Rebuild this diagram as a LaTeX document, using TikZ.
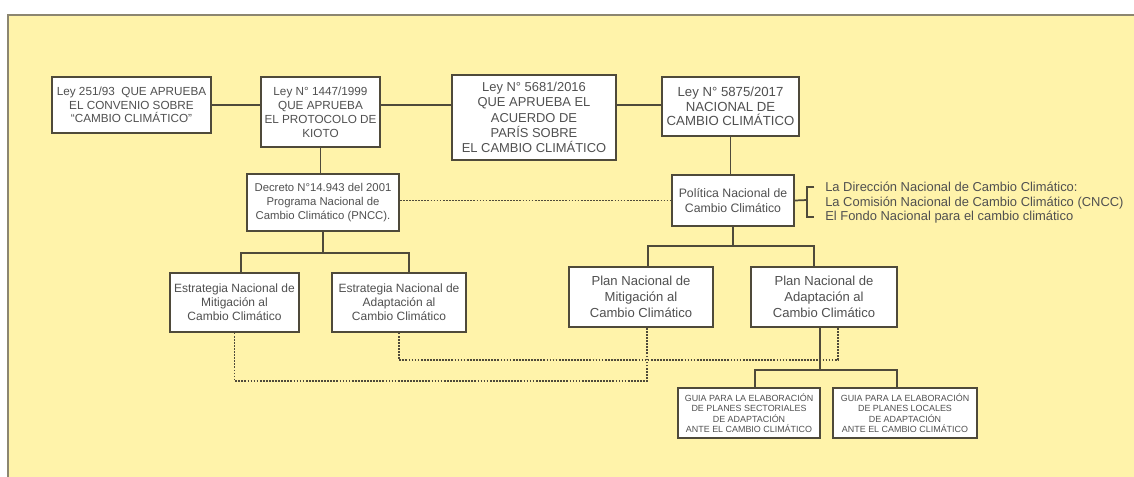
\documentclass[tikz,border=0pt]{standalone}
\usepackage{fontspec}
\setmainfont{Liberation Sans}
\definecolor{panel}{HTML}{FFF3AA}
\definecolor{rim}{HTML}{8C8670}
\definecolor{ink}{HTML}{4F4A3A}
\definecolor{txt}{HTML}{505050}

\begin{document}
\begin{tikzpicture}[x=0.75pt, y=-0.75pt,
        box/.style={draw=ink, line width=1.3pt, fill=white, align=center, text=txt,
            font=\fontsize{9}{10.5}\selectfont, inner sep=1pt},
        guia/.style={box, font=\fontsize{6.7}{7.9}\selectfont},
        link/.style={draw=ink, line width=1.3pt},
        dots/.style={draw=ink, line width=1.3pt, densely dotted},
        nota/.style={anchor=west, text=txt, font=\fontsize{9.7}{10}\selectfont, inner sep=0pt}]
        \useasboundingbox (0,0) rectangle (1134,476);
        \fill[white] (0,0) rectangle (1134,476);
        \filldraw[fill=panel, draw=rim, line width=0.9pt] (8,15) rectangle (1145,490);

        % leyes
        \node[box, minimum width=119pt, minimum height=42pt, font=\fontsize{8.8}{10.3}\selectfont] (b251) at (131.5,105)
            {Ley 251/93\ \ QUE APRUEBA\\EL CONVENIO SOBRE\\``CAMBIO CLIMÁTICO''};
        \node[box, minimum width=89pt, minimum height=52.5pt, font=\fontsize{8.8}{10.5}\selectfont] (b1447) at (320.5,112)
            {Ley N° 1447/1999\\QUE APRUEBA\\EL PROTOCOLO DE\\KIOTO};
        \node[box, minimum width=123pt, minimum height=64pt, font=\fontsize{9.7}{11.5}\selectfont] (b5681) at (534,117.5)
            {Ley N° 5681/2016\\QUE APRUEBA EL\\ACUERDO DE\\PARÍS SOBRE\\EL CAMBIO CLIMÁTICO};
        \node[box, minimum width=103pt, minimum height=44pt, font=\fontsize{9.9}{11}\selectfont] (b5875) at (730.5,106.5)
            {Ley N° 5875/2017\\NACIONAL DE\\CAMBIO CLIMÁTICO};

        % programas y politica
        \node[box, minimum width=114pt, minimum height=43pt, font=\fontsize{8.5}{10.8}\selectfont] (decreto) at (323,202.5)
            {Decreto N°14.943 del 2001\\Programa Nacional de\\Cambio Climático (PNCC).};
        \node[box, minimum width=91.5pt, minimum height=38pt, font=\fontsize{9.2}{11.5}\selectfont] (politica) at (733,200.5)
            {Política Nacional de\\Cambio Climático};

        \node[nota] (l1) at (825,187) {La Dirección Nacional de Cambio Climático:};
        \node[nota] (l2) at (825,203) {La Comisión Nacional de Cambio Climático (CNCC)};
        \node[nota] (l3) at (825,217) {El Fondo Nacional para el cambio climático};

        % estrategias y planes
        \node[box, minimum width=97pt, minimum height=44pt] (em) at (234.5,302.5)
            {Estrategia Nacional de\\Mitigación al\\Cambio Climático};
        \node[box, minimum width=100.5pt, minimum height=44pt] (ea) at (399,302.5)
            {Estrategia Nacional de\\Adaptación al\\Cambio Climático};
        \node[box, minimum width=108pt, minimum height=45pt, font=\fontsize{9.8}{12}\selectfont] (pm) at (641,297)
            {Plan Nacional de\\Mitigación al\\Cambio Climático};
        \node[box, minimum width=109.5pt, minimum height=45pt, font=\fontsize{9.8}{12}\selectfont] (pa) at (824,297)
            {Plan Nacional de\\Adaptación al\\Cambio Climático};

        % guias
        \node[guia, minimum width=106.5pt, minimum height=37.5pt] (g1) at (749,413)
            {GUIA PARA LA ELABORACIÓN\\DE PLANES SECTORIALES\\DE ADAPTACIÓN\\ANTE EL CAMBIO CLIMÁTICO};
        \node[guia, minimum width=108pt, minimum height=37.5pt] (g2) at (905,413)
            {GUIA PARA LA ELABORACIÓN\\DE PLANES LOCALES\\DE ADAPTACIÓN\\ANTE EL CAMBIO CLIMÁTICO};

        \coordinate (top) at (0,105);
        \coordinate (f1) at (323,253);
        \coordinate (f2) at (733,246);
        \coordinate (f3) at (820,370);
        \coordinate (d1) at (647,381);
        \coordinate (d2) at (838,360);
        \coordinate (brk) at (807,200);

        \draw[link] (b251.east) -- (b251.east -| b1447.west);
        \draw[link] (b1447.east |- top) -- (b5681.west |- top);
        \draw[link] (b5681.east |- top) -- (b5875.west |- top);
        \draw[link] (b1447.south) -- (b1447.south |- decreto.north);
        \draw[link] (b5875.south) -- (b5875.south |- politica.north);
        \draw[dots] (decreto.east |- politica.west) -- (politica.west);

        \draw[link] (politica.east) -- (brk);
        \draw[link] ([xshift=-8pt]l1.west) -| (brk) |- ([xshift=-8pt]l3.west);

        \draw[link] (decreto.south) -- (f1);
        \draw[link] ([xshift=5pt]em.north) |- (f1) -| ([xshift=7.5pt]ea.north);
        \draw[link] (politica.south) -- (f2);
        \draw[link] ([xshift=5.25pt]pm.north) |- (f2) -| ([xshift=-7.5pt]pa.north);
        \draw[link] ([xshift=-3pt]pa.south) -- (f3);
        \draw[link] ([xshift=4.5pt]g1.north) |- (f3) -| ([xshift=-6pt]g2.north);

        \draw[dots] (em.south) |- (d1) -- (d1 |- pm.south);
        \draw[dots] (ea.south) |- (d2) -- (d2 |- pa.south);
    \end{tikzpicture}
\end{document}
